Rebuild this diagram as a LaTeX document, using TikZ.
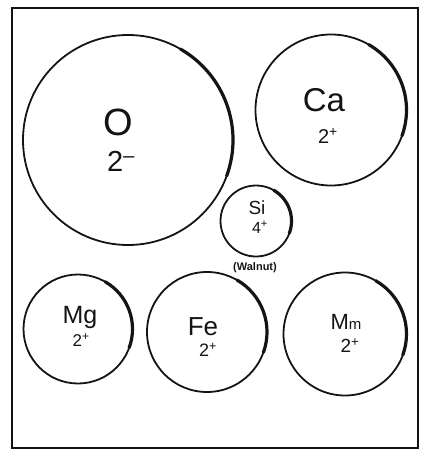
\documentclass[tikz,border=0pt]{standalone}
\usepackage{fontspec}
\setmainfont{Liberation Sans}
\usepackage{xcolor}
\definecolor{sketchink}{HTML}{141414}

\begin{document}
\begin{tikzpicture}[
  x=1pt,
  y=-1pt,
  every node/.style={sketchink, inner sep=0pt},
  frame/.style={sketchink, line width=1.8pt},
  ion/.style={circle, draw=sketchink, line width=1.8pt, inner sep=0pt},
  rim/.style={sketchink, line width=3.2pt, line cap=round},
  sym/.style={font=\fontsize{#1}{#1}\selectfont},
  chg/.style={font=\fontsize{#1}{#1}\selectfont}
]
  % ---- page and frame ----
  \useasboundingbox (0,0) rectangle (423,452);
  \draw[frame] (12,8) rectangle (418,448);
  \draw[sketchink, line width=2.8pt] (12,448) -- (418,448);

  % ---- ions ----
  \node[ion, minimum size=210pt] (o)  at (128,140) {};
  \node[ion, minimum size=151pt] (ca) at (331,110) {};
  \node[ion, minimum size=71pt]  (si) at (256,221) {};
  \node[ion, minimum size=109pt] (mg) at (78,329)  {};
  \node[ion, minimum size=120pt] (fe) at (207,332) {};
  \node[ion, minimum size=123pt] (mn) at (345,334) {};

  % ---- heavier stroke on the lower right of each outline ----
  \foreach \ion/\r in {o/105, ca/75.5, si/35.5, mg/54.5, fe/60, mn/61.5}
    \draw[rim] (\ion.center) ++(-60:\r) arc[start angle=-60, end angle=20, radius=\r];

  % ---- labels ----
  \node[sym=38] (osym)  at (118,122) {O};
  \node[chg=29] (ochg)  at (121,161) {2\textsuperscript{--}};
  \node[sym=33] (casym) at (324,100) {Ca};
  \node[chg=20] (cachg) at (328,136) {2\textsuperscript{+}};
  \node[sym=19] (sisym) at (257,208) {Si};
  \node[chg=16] (sichg) at (260,227) {4\textsuperscript{+}};
  \node[font=\bfseries\fontsize{11}{11}\selectfont] (walnut) at (255,268) {(Walnut)};
  \node[sym=25] (mgsym) at (80,317)  {Mg};
  \node[chg=17] (mgchg) at (81,340)  {2\textsuperscript{+}};
  \node[sym=26] (fesym) at (203,327) {Fe};
  \node[chg=18] (fechg) at (208,350) {2\textsuperscript{+}};
  \node[sym=22] (mnsym) at (346,322) {M\fontsize{15}{15}\selectfont m};
  \node[chg=19] (mnchg) at (350,346) {2\textsuperscript{+}};
\end{tikzpicture}
\end{document}
